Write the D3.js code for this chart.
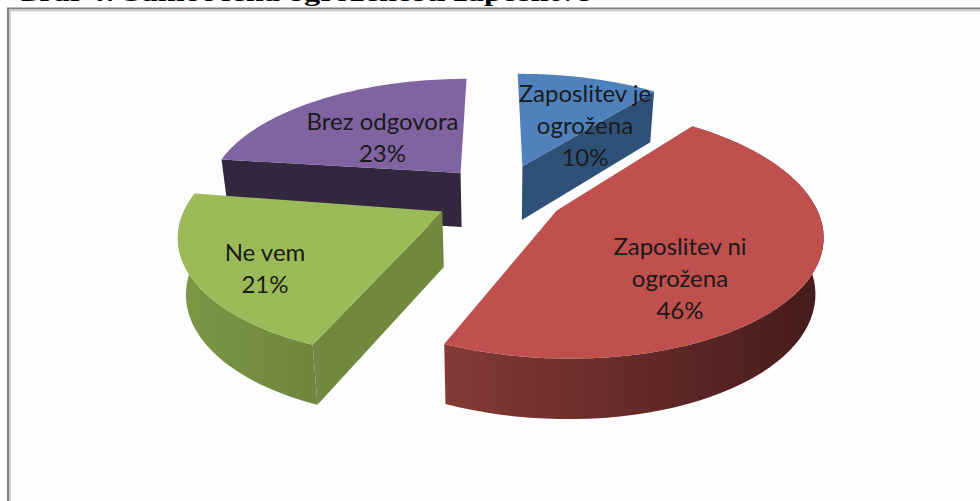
<!DOCTYPE html>
<html><head><meta charset="utf-8">
<script src="https://cdn.jsdelivr.net/npm/d3@7/dist/d3.min.js"></script>
<style>html,body{margin:0;padding:0;background:#fff;overflow:hidden}svg{display:block}</style>
</head><body><svg id="c" width="980" height="501"></svg>
<script>
const titleText = "Graf 4: Samoocena ogroženosti zaposlitve";
const categories = ["Zaposlitev je ogrožena","Zaposlitev ni ogrožena","Ne vem","Brez odgovora"];
const values = [10,46,21,23];
const labelLines = [["Zaposlitev je","ogrožena"],["Zaposlitev ni","ogrožena"],["Ne vem"],["Brez odgovora"]];
const topColors = ["#4f81bd","#c0504d","#9bbb59","#8064a2"];
const wallColors = ["#2f5178","#7f3734","#71893f","#33263f"];
const rimStops = [["#2f5178","#2f5178"],["#843a37","#451b1b"],["#7c9746","#6f873d"],["#33263f","#33263f"]];
const explode = [0.27,0.27,0.27,0.26];
const nudgeX = [0,-7,1,1];
const radial = [1,1,0.99,1];
const startSpin = [-0.5,2.5,1,0];
const endSpin = [2.2,2,1.5,0];
const showStartWall = [false,false,true,true];
const showEndWall = [true,false,false,false];
const showRim = [false,true,true,false];
const labelX = [585,680,265,382.5];
const labelY = [102,255,261,130];

const cx=502, cy=195, A=255, B=117, p=0.17, h=55, q=0.08, shrink=0.975;
const svg=d3.select("#c");
const defs=svg.append("defs");
svg.append("rect").attr("width",980).attr("height",501).attr("fill","#fff");
svg.append("text").attr("x",14).attr("y",1).attr("font-family","Liberation Serif").attr("font-weight",700)
  .attr("font-size",24).attr("textLength",576).attr("lengthAdjust","spacingAndGlyphs").attr("fill","#000").text(titleText);
svg.append("rect").attr("x",8).attr("y",9).attr("width",980).attr("height",500).attr("fill","#fdfdfd").attr("stroke","none");
svg.append("path").attr("d","M8,501V8.5H980").attr("fill","none").attr("stroke","#808080").attr("stroke-width",2);
svg.append("path").attr("d","M10,501V10.5H980").attr("fill","none").attr("stroke","#cfcfcf").attr("stroke-width",2);

const pie=d3.pie().sort(null).startAngle(0).endAngle(2*Math.PI).value(d=>d);
const arcs=pie(values);
const rad=Math.PI/180;
const top3=(u,v)=>{const s=1+p*v;return [cx+A*u/s, cy-B*v/s];};
const bot3=(u,v)=>{const t=top3(u,v);return [cx+(t[0]-cx)*shrink, t[1]+h/(1+q*v)];};
const line=d3.line();
const order=[3,0,2,1];
const grp=svg.append("g");
order.forEach(i=>{
  const a=arcs[i], mid=(a.startAngle+a.endAngle)/2;
  const ou=explode[i]*Math.sin(mid), ov=explode[i]*Math.cos(mid);
  const t0=a.startAngle+startSpin[i]*rad, t1=a.endAngle+endSpin[i]*rad;
  const angs=d3.range(0,61).map(k=>t0+(t1-t0)*k/60);
  const rim=angs.map(t=>[ou+radial[i]*Math.sin(t),ov+radial[i]*Math.cos(t)]);
  const apex=[ou,ov];
  const P=d=>{const r=top3(d[0],d[1]);return [r[0]+nudgeX[i],r[1]];};
  const Q=d=>{const r=bot3(d[0],d[1]);return [r[0]+nudgeX[i],r[1]];};
  const g=grp.append("g");
  [[rim[0],showStartWall[i]],[rim[60],showEndWall[i]]].forEach(([r,show])=>{
    if(show) g.append("path").attr("d",line([P(apex),P(r),Q(r),Q(apex)])+"Z").attr("fill",wallColors[i]);
  });
  if(showRim[i]){
    const xs=rim.map(P).map(d=>d[0]);
    const gid="rim"+i;
    const lg=defs.append("linearGradient").attr("id",gid).attr("gradientUnits","userSpaceOnUse")
      .attr("x1",d3.min(xs)).attr("x2",d3.max(xs)).attr("y1",0).attr("y2",0);
    lg.append("stop").attr("offset",0).attr("stop-color",rimStops[i][0]);
    lg.append("stop").attr("offset",1).attr("stop-color",rimStops[i][1]);
    g.append("path").attr("d",line(rim.map(P).concat(rim.map(Q).reverse()))+"Z").attr("fill",`url(#${gid})`);
  }
  g.append("path").attr("d",line([P(apex)].concat(rim.map(P)))+"Z").attr("fill",topColors[i]);
});
arcs.forEach((a,i)=>{
  const lines=labelLines[i].concat([values[i]+"%"]);
  const t=svg.append("text").attr("text-anchor","middle").attr("font-family","Lato").attr("font-size",24).attr("fill","#1a1a1a");
  lines.forEach((s,k)=>t.append("tspan").attr("x",labelX[i]).attr("y",labelY[i]+k*32).text(s));
});
</script></body></html>
